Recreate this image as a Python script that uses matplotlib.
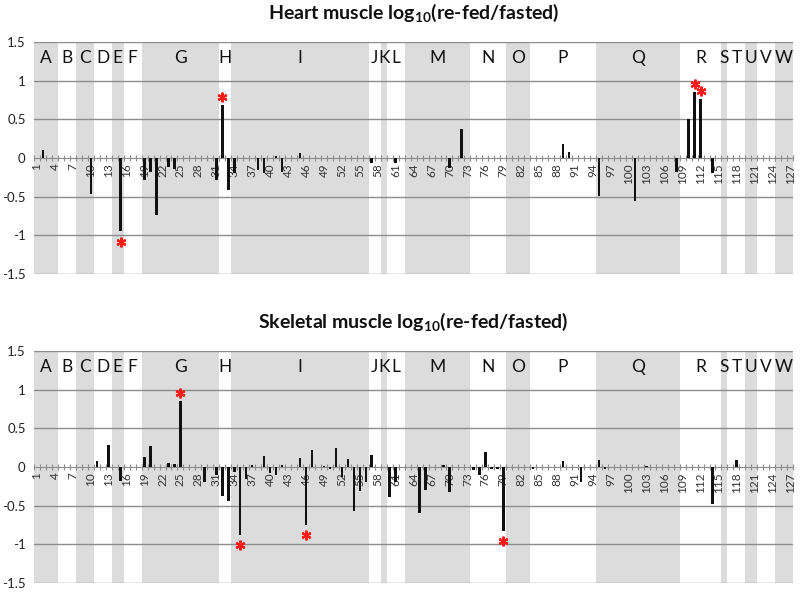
import matplotlib
matplotlib.use('Agg')
import matplotlib.pyplot as plt
import numpy as np

# group letters and category boundaries (edges between categories)
GROUP_LETTERS = list("ABCDEFGHIJKLMNOPQRSTUVW")
GROUP_EDGES = [0, 4, 7, 10, 13, 15, 18, 31, 33, 56, 58, 59, 62, 73, 79, 83, 94,
               108, 115, 116, 119, 121, 124, 127]
N_CAT = 127

# heart muscle values (category, log10 ratio)
heart_cat = [2, 10, 15, 19, 20, 21, 23, 24, 31, 32, 33, 34, 38, 39, 41, 42, 45,
             57, 61, 70, 72, 89, 90, 95, 101, 108, 110, 111, 112, 114]
heart_val = [0.11, -0.47, -0.95, -0.28, -0.18, -0.74, -0.12, -0.14, -0.29, 0.68,
             -0.41, -0.19, -0.15, -0.19, 0.02, -0.18, 0.07,
             -0.07, -0.06, -0.13, 0.38, 0.18, 0.08, -0.49, -0.55, -0.18, 0.50,
             0.85, 0.76, -0.19]
heart_star = [15, 32, 111, 112]

# skeletal muscle values
skel_cat = [11, 13, 15, 19, 20, 23, 24, 25, 29, 31, 32, 33, 34, 35, 36, 37, 39,
            40, 41, 42, 45, 46, 47, 49, 50, 51, 52, 53, 54, 55, 56, 57, 60, 61,
            65, 66, 69, 70, 74, 75, 76, 77, 78, 79, 84, 89, 92, 95, 96, 103,
            114, 118]
skel_val = [0.08, 0.28, -0.18, 0.13, 0.27, 0.05, 0.04, 0.85, -0.19, -0.11,
            -0.37, -0.44, -0.07, -0.88, -0.15, 0.02, 0.14,
            -0.08, -0.10, 0.02, 0.12, -0.75, 0.22, 0.01, -0.02, 0.25, -0.13,
            0.10, -0.57, -0.31, -0.19, 0.15, -0.39, -0.19,
            -0.59, -0.30, 0.03, -0.32, -0.04, -0.11, 0.19, -0.02, -0.02, -0.83,
            -0.02, 0.08, -0.19, 0.09, -0.03, 0.01, -0.48, 0.09]
skel_star = [25, 35, 46, 79]

TITLES = ["Heart muscle log$_{\\mathbf{10}}$(re-fed/fasted)",
          "Skeletal muscle log$_{\\mathbf{10}}$(re-fed/fasted)"]

plt.rcParams['font.family'] = ['Lato', 'DejaVu Sans']
plt.rcParams['mathtext.fontset'] = 'custom'
plt.rcParams['mathtext.rm'] = 'Lato'
plt.rcParams['mathtext.bf'] = 'Lato:bold'

fig = plt.figure(figsize=(8.0, 5.93), dpi=100)
ax_top = fig.add_axes([0.0425, 0.538, 0.949, 0.391])
ax_bot = fig.add_axes([0.0425, 0.017, 0.949, 0.391])


def draw_panel(ax, cats, vals, stars, title):
    # background shading for groups
    for k, letter in enumerate(GROUP_LETTERS):
        a, b = GROUP_EDGES[k] + 0.5, GROUP_EDGES[k + 1] + 0.5
        if k % 2 == 0:
            ax.axvspan(a, b, color='#dcdcdc', lw=0, zorder=0)
        ax.text((a + b) / 2, 1.3, letter, ha='center', va='center',
                fontsize=12.5, color='#111111', zorder=3)

    for y in [-1.5, -1, -0.5, 0.5, 1, 1.5]:
        ax.axhline(y, color='#8c8c8c', lw=1.0, zorder=1)

    ax.bar(cats, vals, width=0.42, color='#111111', zorder=4)

    # significance asterisks
    lookup = dict(zip(cats, vals))
    sx = [c for c in stars]
    sy = [lookup[c] + (0.11 if lookup[c] > 0 else -0.13) for c in stars]
    ax.plot(sx, sy, ls='none', marker=(6, 2, 0), ms=7, mew=1.6,
            color='#ff1a1a', zorder=5)

    ax.set_xlim(0.5, N_CAT + 0.5)
    ax.set_ylim(-1.5, 1.5)
    ax.set_yticks([-1.5, -1, -0.5, 0, 0.5, 1, 1.5])
    ax.set_yticklabels(['-1.5', '-1', '-0.5', '0', '0.5', '1', '1.5'],
                       fontsize=9.5, color='#222222')
    ax.tick_params(axis='y', length=0, pad=6)

    for s in ['left', 'right', 'top']:
        ax.spines[s].set_visible(False)
    ax.spines['bottom'].set_position(('data', 0))
    ax.spines['bottom'].set_color('#8c8c8c')
    ax.spines['bottom'].set_zorder(2)

    ax.set_xticks(np.arange(1, N_CAT + 1, 3))
    ax.set_xticklabels([str(i) for i in range(1, N_CAT + 1, 3)], rotation=90,
                       fontsize=8.5, color='#333333')
    ax.set_xticks(np.arange(0.5, N_CAT + 1, 1), minor=True)
    ax.tick_params(axis='x', which='major', length=0, pad=4)
    ax.tick_params(axis='x', which='minor', length=4, direction='inout',
                   color='#8c8c8c', width=0.8)

    ax.set_title(title, fontsize=14, fontweight='bold', pad=17, color='#111111')


draw_panel(ax_top, heart_cat, heart_val, heart_star, TITLES[0])
draw_panel(ax_bot, skel_cat, skel_val, skel_star, TITLES[1])

fig.savefig('out.png', dpi=100)
